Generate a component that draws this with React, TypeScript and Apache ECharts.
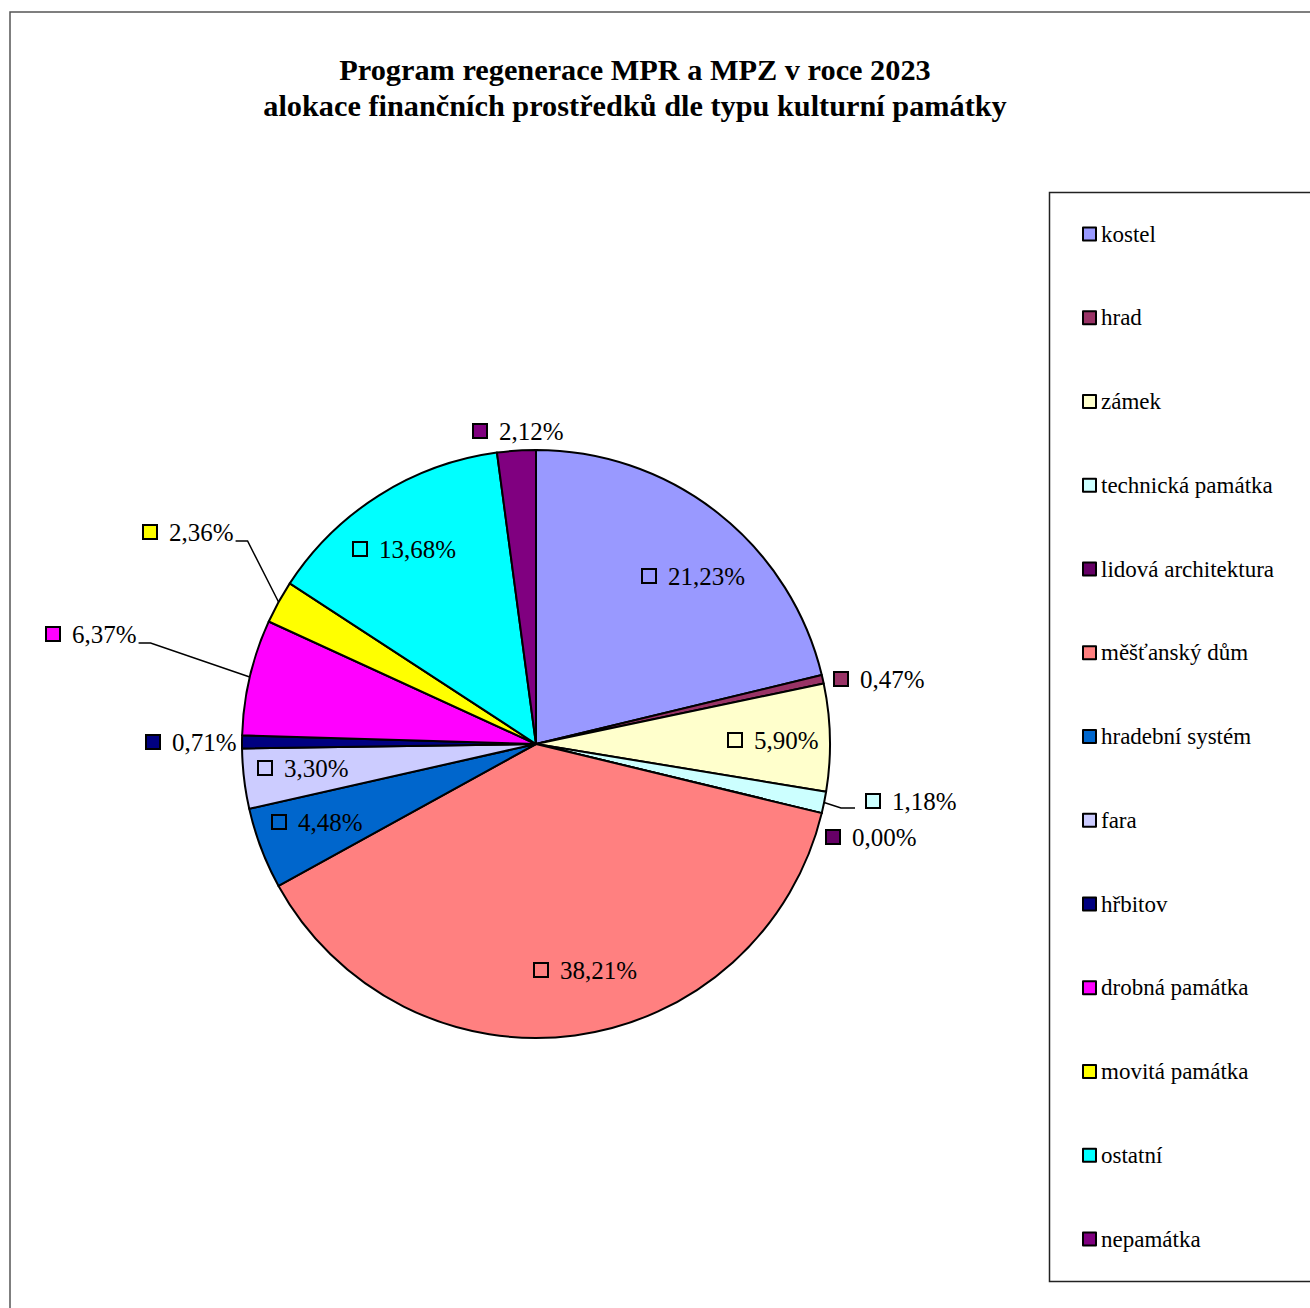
import React, { useEffect, useRef } from "react";
import * as echarts from "echarts";

const categories = [
  "kostel",
  "hrad",
  "zámek",
  "technická památka",
  "lidová architektura",
  "měšťanský dům",
  "hradební systém",
  "fara",
  "hřbitov",
  "drobná památka",
  "movitá památka",
  "ostatní",
  "nepamátka",
];
const shares = [21.23, 0.47, 5.9, 1.18, 0.0, 38.21, 4.48, 3.3, 0.71, 6.37, 2.36, 13.68, 2.12];
const colors = [
  "#9999FF",
  "#993366",
  "#FFFFCC",
  "#CCFFFF",
  "#660066",
  "#FF8080",
  "#0066CC",
  "#CCCCFF",
  "#000080",
  "#FF00FF",
  "#FFFF00",
  "#00FFFF",
  "#800080",
];
const titleLines = [
  "Program regenerace MPR a MPZ v roce 2023",
  "alokace finančních prostředků dle typu kulturní památky",
];

// label placement (left edge of key square, vertical centre) – layout only
const labelPos: [number, number][] = [
  [643, 576],
  [835, 679],
  [729, 740],
  [867, 801],
  [827, 837],
  [535, 970],
  [273, 822],
  [259, 768],
  [147, 742],
  [47, 634],
  [144, 532],
  [354, 549],
  [474, 431],
];
// leader lines: 'r' = label to the right of pie, 'l' = label to the left
const leaderSide: Record<number, "r" | "l"> = { 3: "r", 9: "l", 10: "l" };

const CX = 536;
const CY = 744;
const R = 294;
const FONT = "'Liberation Serif', 'Times New Roman', serif";

function midPoint(i: number): [number, number] {
  const total = shares.reduce((a, b) => a + b, 0);
  let cum = 0;
  for (let k = 0; k < i; k++) cum += shares[k];
  const frac = (cum + shares[i] / 2) / total;
  const ang = frac * Math.PI * 2;
  return [CX + R * Math.sin(ang), CY - R * Math.cos(ang)];
}

export default function App() {
  const ref = useRef<HTMLDivElement>(null);
  useEffect(() => {
    if (!ref.current) return;
    const chart = echarts.init(ref.current, undefined, { renderer: "svg" });
    const data = categories.map((name, i) => ({
      name,
      value: shares[i],
      itemStyle: { color: colors[i] },
      label: {
        rich: {
          sq: {
            width: 12,
            height: 12,
            backgroundColor: colors[i],
            borderColor: "#000",
            borderWidth: 2,
            verticalAlign: "middle",
          },
          t: {
            fontSize: 25,
            fontFamily: FONT,
            color: "#000",
            padding: [0, 0, 0, 13],
            verticalAlign: "middle",
          },
        },
      },
      labelLine: { show: leaderSide[i] !== undefined },
    }));

    chart.setOption({
      animation: false,
      backgroundColor: "#fff",
      title: {
        text: titleLines.join("\n"),
        left: 630,
        top: 47,
        textAlign: "center",
        textStyle: {
          fontFamily: FONT,
          fontWeight: "bold",
          fontSize: 30.3,
          lineHeight: 36,
          color: "#000",
        },
      },
      legend: {
        orient: "vertical",
        left: 1077,
        top: 217,
        padding: 5,
        itemWidth: 13,
        itemHeight: 13,
        itemGap: 59.75,
        icon: "rect",
        data: categories,
        selectedMode: false,
        itemStyle: { borderColor: "#000", borderWidth: 2 },
        textStyle: {
          fontFamily: FONT,
          fontSize: 23,
          lineHeight: 24,
          color: "#000",
        },
      },
      graphic: [
        {
          type: "rect",
          shape: { x: 10, y: 12, width: 1400, height: 1400 },
          style: { fill: "none", stroke: "#555", lineWidth: 1.5 },
          silent: true,
        },
        {
          type: "rect",
          shape: { x: 1049.5, y: 192.5, width: 400, height: 1089 },
          style: { fill: "none", stroke: "#222", lineWidth: 1.5 },
          silent: true,
        },
      ],
      series: [
        {
          type: "pie",
          center: [CX, CY],
          radius: R,
          startAngle: 90,
          clockwise: true,
          data,
          itemStyle: { borderColor: "#000", borderWidth: 2 },
          emphasis: { disabled: true },
          label: {
            show: true,
            position: "outside",
            formatter: (p: any) =>
              "{sq|}{t|" + Number(p.value).toFixed(2).replace(".", ",") + "%}",
          },
          labelLine: {
            show: false,
            lineStyle: { color: "#000", width: 1.5 },
          },
          labelLayout: (params: any) => {
            const i = params.dataIndex;
            const [lx, ly] = labelPos[i];
            const res: any = { x: lx, y: ly, align: "left", verticalAlign: "middle", hideOverlap: false };
            const side = leaderSide[i];
            if (side) {
              const edge = midPoint(i);
              if (side === "r") {
                res.labelLinePoints = [edge, [lx - 26, ly + 7], [lx - 12, ly + 7]];
              } else {
                const w = params.labelRect ? params.labelRect.width : 92;
                res.labelLinePoints = [edge, [lx + w + 12, ly + 9], [lx + w, ly + 9]];
              }
            }
            return res;
          },
        },
      ],
    });
    return () => chart.dispose();
  }, []);
  return (
    <div
      ref={ref}
      style={{ position: "absolute", left: 0, top: 0, width: 1310, height: 1308 }}
    />
  );
}
